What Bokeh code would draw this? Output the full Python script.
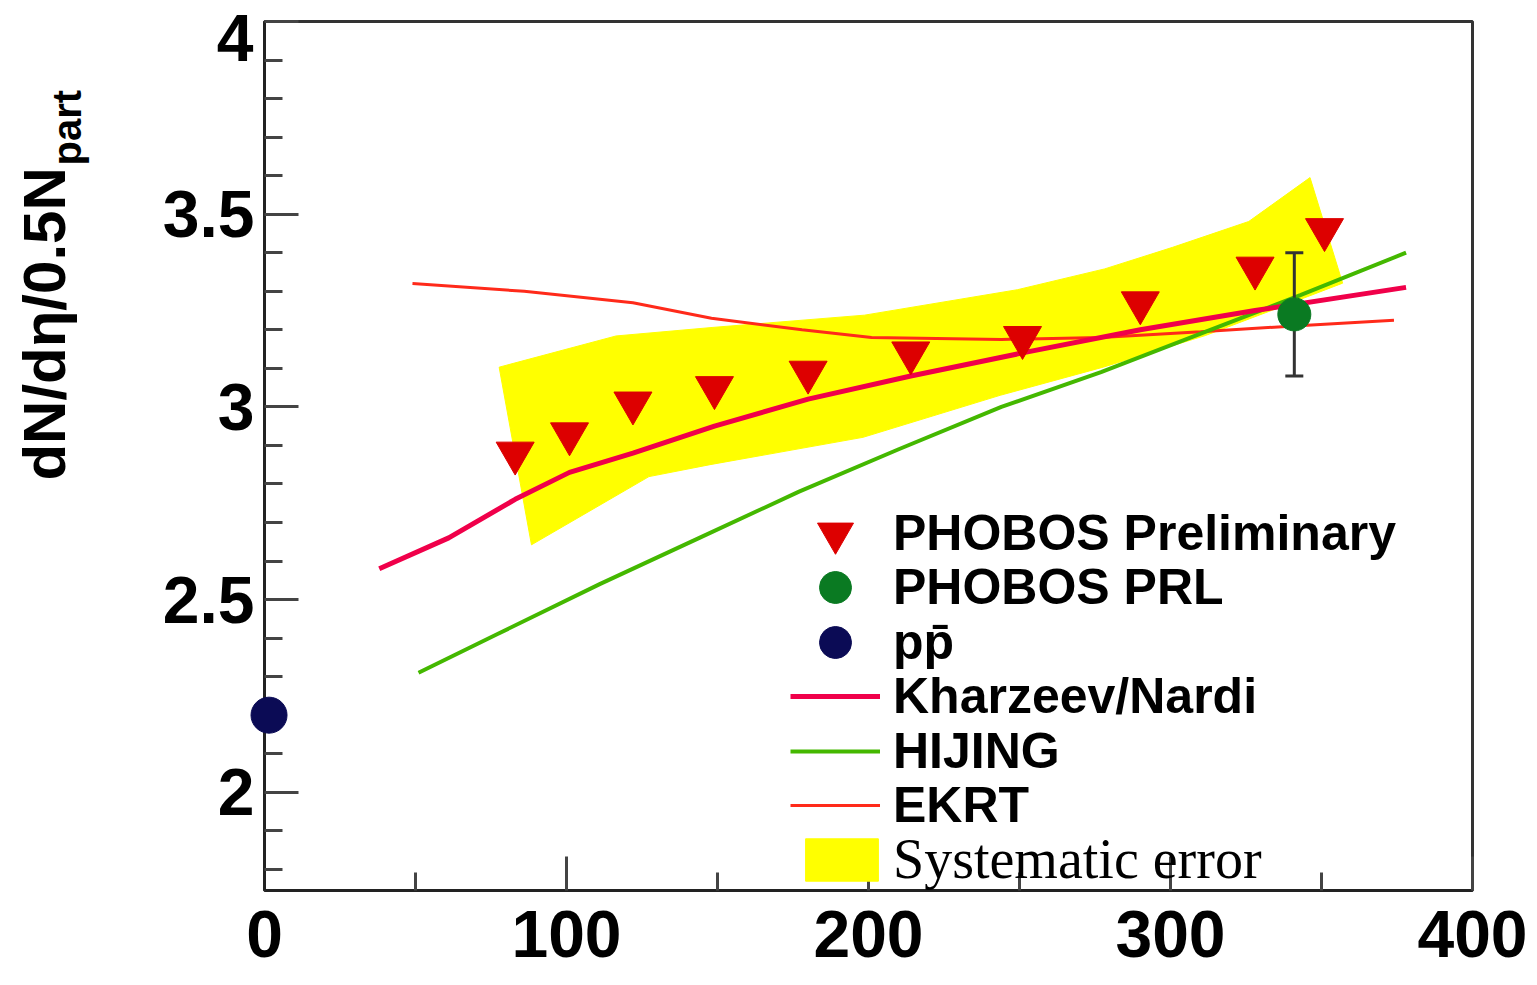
import math
from bokeh.plotting import figure
from bokeh.models import Range1d, FixedTicker, Legend, LegendItem
from bokeh.core.properties import value
from bokeh.embed import file_html
from bokeh.resources import INLINE

# ---------------- data ----------------
prelim_npart = [83, 101, 122, 149, 180, 214, 251, 290, 328, 351]
prelim_val = [2.88, 2.93, 3.01, 3.05, 3.09, 3.14, 3.18, 3.27, 3.36, 3.46]

prl_npart = [341]
prl_val = [3.24]
prl_err = [0.16]

pp_npart = [1.5]
pp_val = [2.20]

kn_npart = [38, 61, 83, 101, 122, 149, 180, 214, 251, 290, 328, 378]
kn_val = [2.58, 2.66, 2.76, 2.83, 2.88, 2.95, 3.02, 3.08, 3.14, 3.20, 3.25, 3.31]

hijing_npart = [51, 77, 111, 144, 177, 210, 244, 277, 310, 343, 378]
hijing_val = [2.31, 2.41, 2.54, 2.66, 2.78, 2.89, 3.00, 3.09, 3.19, 3.29, 3.40]

ekrt_npart = [49, 86, 122, 148, 178, 201, 244, 277, 310, 341, 374]
ekrt_val = [3.32, 3.30, 3.27, 3.23, 3.20, 3.18, 3.175, 3.18, 3.195, 3.21, 3.225]

band_up_x = [77.7, 116.4, 148.2, 198.7, 249.3, 278.2, 300.7, 325.9, 346.2]
band_up_y = [3.103, 3.184, 3.206, 3.238, 3.304, 3.358, 3.414, 3.481, 3.595]
band_lo_x = [88.4, 127.3, 147.5, 198.2, 243.6, 277.7, 311.5, 336.4, 357.0]
band_lo_y = [2.642, 2.819, 2.850, 2.921, 3.030, 3.103, 3.185, 3.259, 3.321]

x_major = [0, 100, 200, 300, 400]
x_minor = [50, 150, 250, 350]
y_major = [2, 2.5, 3, 3.5, 4]
y_tick_labels = ["2", "2.5", "3", "3.5", "4"]
y_minor = [1.8, 1.9, 2.1, 2.2, 2.3, 2.4, 2.6, 2.7, 2.8, 2.9,
           3.1, 3.2, 3.3, 3.4, 3.6, 3.7, 3.8, 3.9]

legend_labels = ["PHOBOS Preliminary", "PHOBOS PRL", "pp\u0304",
                 "Kharzeev/Nardi", "HIJING", "EKRT", "Systematic error"]
y_title = "dN/d\u03b7/0.5N"
y_title_sub = "part"

# ---------------- layout constants ----------------
FRAME_TOP = 21
FRAME_BOTTOM = 890
FRAME_LEFT = 264
PX_PER_X = 3.02
PX_PER_Y = 385.3


def sx2data(px):
    return (px - FRAME_LEFT) / PX_PER_X


def sy2data(py):
    return 4.0 - (py - FRAME_TOP) / PX_PER_Y


# ---------------- figure ----------------
p = figure(width=1537, height=985,
           x_range=Range1d(0, 400), y_range=Range1d(1.745, 4.0),
           output_backend="svg", toolbar_location=None,
           min_border_left=FRAME_LEFT, min_border_right=65,
           min_border_top=FRAME_TOP, min_border_bottom=985 - FRAME_BOTTOM)
p.background_fill_color = "white"
p.border_fill_color = "white"
p.xgrid.visible = False
p.ygrid.visible = False
p.outline_line_color = "#333333"
p.outline_line_width = 3

p.xaxis.ticker = FixedTicker(ticks=x_major, minor_ticks=x_minor)
p.yaxis.ticker = FixedTicker(ticks=y_major, minor_ticks=y_minor)
overrides = {t: s for t, s in zip(y_major, y_tick_labels)}
overrides[y_major[-1]] = ""          # top label drawn below as text so it is not cut at the edge
p.yaxis.major_label_overrides = overrides

for ax in p.axis:
    ax.major_tick_in = 34
    ax.major_tick_out = 0
    ax.minor_tick_in = 18
    ax.minor_tick_out = 0
    ax.major_tick_line_color = "#444444"
    ax.major_tick_line_width = 3
    ax.minor_tick_line_color = "#444444"
    ax.minor_tick_line_width = 3
    ax.axis_line_color = "#222222"
    ax.axis_line_width = 3
    ax.major_label_text_font = "Liberation Sans"
    ax.major_label_text_font_style = "bold"
    ax.major_label_text_font_size = "66px"
    ax.major_label_text_color = "black"
p.xaxis.major_label_standoff = 20
p.yaxis.major_label_standoff = 10

# top y tick label, nudged a little below the frame edge
p.text(x=[x_major[0]], y=[y_major[-1]], text=[y_tick_labels[-1]], x_offset=-11, y_offset=16,
       text_align="right", text_baseline="middle",
       text_font=value("Liberation Sans"), text_font_style="bold",
       text_font_size="66px", text_color="black", level="overlay")

# systematic error band
band_x = band_up_x + band_lo_x[::-1]
band_y = band_up_y + band_lo_y[::-1]
r_band = p.patch(band_x, band_y, fill_color="#ffff00", line_color="#ffff00", line_width=1)

# theory curves
r_ekrt = p.line(ekrt_npart, ekrt_val, line_color="#ff2a1a", line_width=3)
r_hij = p.line(hijing_npart, hijing_val, line_color="#44b800", line_width=4)
r_kn = p.line(kn_npart, kn_val, line_color="#f0004a", line_width=5)

# data
r_tri = p.scatter(prelim_npart, prelim_val, marker="inverted_triangle", size=38,
                  fill_color="#dd0000", line_color="#dd0000")

prl_lo = [v - e for v, e in zip(prl_val, prl_err)]
prl_hi = [v + e for v, e in zip(prl_val, prl_err)]
p.segment(x0=prl_npart, y0=prl_lo, x1=prl_npart, y1=prl_hi, line_color="#333333", line_width=3)
p.scatter(prl_npart, prl_lo, marker="dash", size=18, line_color="#333333", line_width=3)
p.scatter(prl_npart, prl_hi, marker="dash", size=18, line_color="#333333", line_width=3)
r_prl = p.scatter(prl_npart, prl_val, marker="circle", size=33,
                  fill_color="#0a7a22", line_color="#0a7a22")

r_pp = p.scatter(pp_npart, pp_val, marker="circle", size=36,
                 fill_color="#0b0b55", line_color="#0b0b55", level="overlay")

# legend: one row per Legend so each row can be placed exactly
row_renderers = [r_tri, r_prl, r_pp, r_kn, r_hij, r_ekrt]
row_glyph_h = [90, 80, 80, 90, 90, 90]
ROW0 = 533
ROW_PITCH = 54.4
for i, (lab, rend, gh) in enumerate(zip(legend_labels[:6], row_renderers, row_glyph_h)):
    c = ROW0 + ROW_PITCH * i
    leg = Legend(items=[LegendItem(label=lab, renderers=[rend])],
                 location=(790 - FRAME_LEFT, FRAME_BOTTOM - (c + gh / 2)),
                 glyph_width=90, glyph_height=gh, spacing=0,
                 label_standoff=13, padding=0, margin=0,
                 border_line_alpha=0, background_fill_alpha=0,
                 label_text_font="Liberation Sans", label_text_font_style="bold",
                 label_text_font_size="50px", label_text_color="black",
                 label_height=gh, level="overlay")
    p.add_layout(leg)

c_sys = ROW0 + ROW_PITCH * 6
leg2 = Legend(items=[LegendItem(label=legend_labels[6], renderers=[r_band])],
              location=(796 - FRAME_LEFT, FRAME_BOTTOM - (c_sys + 32)),
              glyph_width=91, glyph_height=53, spacing=0,
              label_standoff=6, padding=0, margin=0,
              border_line_alpha=0, background_fill_alpha=0,
              label_text_font="Liberation Serif", label_text_font_style="normal",
              label_text_font_size="56px", label_text_color="black",
              level="overlay")
p.add_layout(leg2)

# y-axis title (main part + subscript), drawn as text outside the frame
p.text(x=[sx2data(44)], y=[sy2data(480)], text=[y_title], angle=math.pi / 2,
       text_align="left", text_baseline="alphabetic",
       text_font=value("Liberation Sans"), text_font_style="bold", text_font_size="60px",
       text_color="black", level="overlay")
p.text(x=[sx2data(66)], y=[sy2data(165)], text=[y_title_sub], angle=math.pi / 2,
       text_align="left", text_baseline="alphabetic",
       text_font=value("Liberation Sans"), text_font_style="bold",
       text_font_size="40px", text_color="black", level="overlay")

open("out.html", "w").write(file_html(p, INLINE))
